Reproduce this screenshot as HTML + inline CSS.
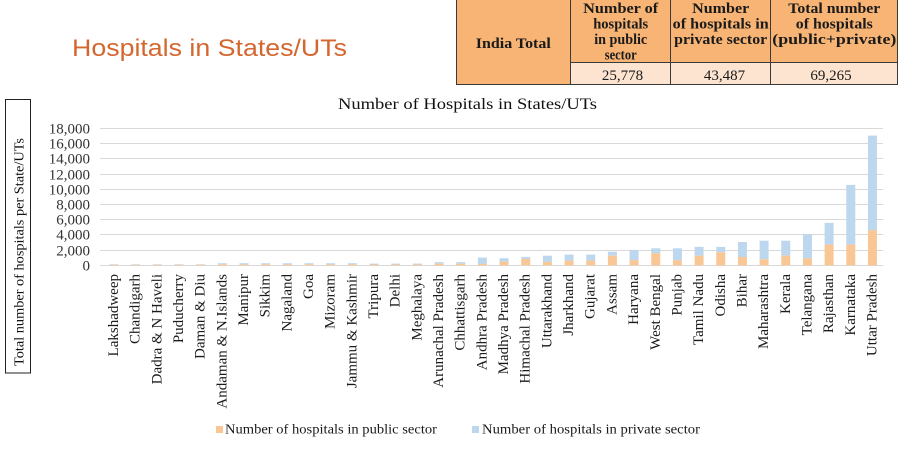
<!DOCTYPE html>
<html>
<head>
<meta charset="utf-8">
<style>
html,body{margin:0;padding:0;background:#fff;}
svg{display:block;}
text{font-family:"Liberation Serif","DejaVu Serif",serif;}
</style>
</head>
<body>
<svg width="903" height="451" viewBox="0 0 903 451" xmlns="http://www.w3.org/2000/svg">
<rect x="0" y="0" width="903" height="451" fill="#ffffff"/>

<!-- Main title -->
<text x="72" y="56" font-family="Liberation Sans, DejaVu Sans, sans-serif" style="font-family:'Liberation Sans','DejaVu Sans',sans-serif" font-size="24.5" fill="#d4672f" textLength="275" lengthAdjust="spacingAndGlyphs">Hospitals in States/UTs</text>

<!-- Table -->
<rect x="456" y="0" width="442" height="84" fill="#f7b474"/>
<rect x="571" y="63" width="327" height="21" fill="#fce4d0"/>
<g stroke="#3a3a3a" stroke-width="1" fill="none">
  <line x1="456.5" y1="0" x2="456.5" y2="85"/>
  <line x1="570.5" y1="0" x2="570.5" y2="85"/>
  <line x1="670.5" y1="0" x2="670.5" y2="85"/>
  <line x1="770.5" y1="0" x2="770.5" y2="85"/>
  <line x1="897.5" y1="0" x2="897.5" y2="85"/>
  <line x1="570" y1="62.5" x2="898" y2="62.5"/>
  <line x1="456" y1="84.5" x2="898" y2="84.5"/>
</g>
<g font-weight="bold" font-size="15" fill="#1a1a1a" text-anchor="middle">
  <text x="513.3" y="48" textLength="75" lengthAdjust="spacingAndGlyphs">India Total</text>
  <text x="620.7" y="13" textLength="75" lengthAdjust="spacingAndGlyphs">Number of</text>
  <text x="620.7" y="28.5" textLength="55" lengthAdjust="spacingAndGlyphs">hospitals</text>
  <text x="620.7" y="44" textLength="53" lengthAdjust="spacingAndGlyphs">in public</text>
  <text x="620.7" y="59.5" textLength="32" lengthAdjust="spacingAndGlyphs">sector</text>
  <text x="720.7" y="13" textLength="57" lengthAdjust="spacingAndGlyphs">Number</text>
  <text x="720.7" y="28.5" textLength="96" lengthAdjust="spacingAndGlyphs">of hospitals in</text>
  <text x="720.7" y="44" textLength="93" lengthAdjust="spacingAndGlyphs">private sector</text>
  <text x="834.3" y="13" textLength="92" lengthAdjust="spacingAndGlyphs">Total number</text>
  <text x="834.3" y="28.5" textLength="77" lengthAdjust="spacingAndGlyphs">of hospitals</text>
  <text x="834.3" y="44" textLength="124" lengthAdjust="spacingAndGlyphs">(public+private)</text>
</g>
<g font-size="15" fill="#1a1a1a" text-anchor="middle">
  <text x="622.5" y="80">25,778</text>
  <text x="724.5" y="80">43,487</text>
  <text x="831" y="80">69,265</text>
</g>

<!-- Chart title -->
<text x="338" y="109" font-size="16" fill="#111" textLength="259" lengthAdjust="spacingAndGlyphs">Number of Hospitals in States/UTs</text>

<!-- Y-axis title box -->
<rect x="5.5" y="99.5" width="25" height="273.5" fill="none" stroke="#222" stroke-width="1"/>
<text transform="translate(23.5,366) rotate(-90)" font-size="14" fill="#111" textLength="228" lengthAdjust="spacingAndGlyphs">Total number of hospitals per State/UTs</text>

<!-- Gridlines -->
<g stroke="#d9d9d9" stroke-width="1">
  <line x1="100" y1="128.5" x2="883" y2="128.5"/>
  <line x1="100" y1="143.5" x2="883" y2="143.5"/>
  <line x1="100" y1="158.5" x2="883" y2="158.5"/>
  <line x1="100" y1="174.5" x2="883" y2="174.5"/>
  <line x1="100" y1="189.5" x2="883" y2="189.5"/>
  <line x1="100" y1="204.5" x2="883" y2="204.5"/>
  <line x1="100" y1="219.5" x2="883" y2="219.5"/>
  <line x1="100" y1="234.5" x2="883" y2="234.5"/>
  <line x1="100" y1="250.5" x2="883" y2="250.5"/>
  <line x1="100" y1="265.5" x2="883" y2="265.5"/>
</g>

<!-- Y tick labels -->
<g font-size="15" fill="#333" text-anchor="end">
  <text x="90" y="133.5">18,000</text>
  <text x="90" y="148.5">16,000</text>
  <text x="90" y="163.5">14,000</text>
  <text x="90" y="179.5">12,000</text>
  <text x="90" y="194.5">10,000</text>
  <text x="90" y="209.5">8,000</text>
  <text x="90" y="224.5">6,000</text>
  <text x="90" y="239.5">4,000</text>
  <text x="90" y="255.5">2,000</text>
  <text x="90" y="270.5">0</text>
</g>

<!-- Bars: private (blue) -->
<g fill="#bdd7ee">
  <rect x="109.5" y="264.2" width="9" height="0.6"/>
  <rect x="131.17" y="264.2" width="9" height="0.6"/>
  <rect x="152.84" y="264.2" width="9" height="0.6"/>
  <rect x="174.51" y="264.2" width="9" height="0.6"/>
  <rect x="196.18" y="264.2" width="9" height="0.5"/>
  <rect x="217.85" y="263.2" width="9" height="1.1"/>
  <rect x="239.52" y="263.2" width="9" height="1.2"/>
  <rect x="261.19" y="263.2" width="9" height="1.1"/>
  <rect x="282.86" y="263.2" width="9" height="1.2"/>
  <rect x="304.53" y="263.2" width="9" height="1.1"/>
  <rect x="326.2" y="263.2" width="9" height="1.2"/>
  <rect x="347.87" y="263.2" width="9" height="1.1"/>
  <rect x="369.54" y="263.6" width="9" height="0.9"/>
  <rect x="391.21" y="263.6" width="9" height="0.9"/>
  <rect x="412.88" y="263.6" width="9" height="0.9"/>
  <rect x="434.55" y="262.1" width="9" height="1.6"/>
  <rect x="456.22" y="262.1" width="9" height="1.6"/>
  <rect x="477.89" y="257.6" width="9" height="6.3"/>
  <rect x="499.56" y="258.2" width="9" height="3.4"/>
  <rect x="521.23" y="256.9" width="9" height="2.0"/>
  <rect x="542.9" y="255.7" width="9" height="6.2"/>
  <rect x="564.57" y="254.6" width="9" height="6.0"/>
  <rect x="586.24" y="254.6" width="9" height="6.0"/>
  <rect x="607.91" y="251.7" width="9" height="4.0"/>
  <rect x="629.58" y="249.9" width="9" height="10.2"/>
  <rect x="651.25" y="248.3" width="9" height="4.9"/>
  <rect x="672.92" y="248.3" width="9" height="11.9"/>
  <rect x="694.59" y="246.9" width="9" height="8.8"/>
  <rect x="716.26" y="246.9" width="9" height="5.4"/>
  <rect x="737.93" y="242.0" width="9" height="15.0"/>
  <rect x="759.6" y="240.7" width="9" height="18.5"/>
  <rect x="781.27" y="240.7" width="9" height="14.9"/>
  <rect x="802.94" y="234.3" width="9" height="24.0"/>
  <rect x="824.61" y="222.9" width="9" height="21.7"/>
  <rect x="846.28" y="184.9" width="9" height="59.7"/>
  <rect x="867.95" y="135.6" width="9" height="94.6"/>
</g>
<!-- Bars: public (orange) -->
<g fill="#f9c796">
  <rect x="109.5" y="264.8" width="9" height="0.6"/>
  <rect x="131.17" y="264.8" width="9" height="0.6"/>
  <rect x="152.84" y="264.8" width="9" height="0.6"/>
  <rect x="174.51" y="264.8" width="9" height="0.6"/>
  <rect x="196.18" y="264.7" width="9" height="0.7"/>
  <rect x="217.85" y="264.3" width="9" height="1.1"/>
  <rect x="239.52" y="264.4" width="9" height="1.0"/>
  <rect x="261.19" y="264.3" width="9" height="1.1"/>
  <rect x="282.86" y="264.4" width="9" height="1.0"/>
  <rect x="304.53" y="264.3" width="9" height="1.1"/>
  <rect x="326.2" y="264.4" width="9" height="1.0"/>
  <rect x="347.87" y="264.3" width="9" height="1.1"/>
  <rect x="369.54" y="264.5" width="9" height="0.9"/>
  <rect x="391.21" y="264.5" width="9" height="0.9"/>
  <rect x="412.88" y="264.5" width="9" height="0.9"/>
  <rect x="434.55" y="263.7" width="9" height="1.7"/>
  <rect x="456.22" y="263.7" width="9" height="1.7"/>
  <rect x="477.89" y="263.9" width="9" height="1.5"/>
  <rect x="499.56" y="261.6" width="9" height="3.8"/>
  <rect x="521.23" y="258.9" width="9" height="6.5"/>
  <rect x="542.9" y="261.9" width="9" height="3.5"/>
  <rect x="564.57" y="260.6" width="9" height="4.8"/>
  <rect x="586.24" y="260.6" width="9" height="4.8"/>
  <rect x="607.91" y="255.7" width="9" height="9.7"/>
  <rect x="629.58" y="260.1" width="9" height="5.3"/>
  <rect x="651.25" y="253.2" width="9" height="12.2"/>
  <rect x="672.92" y="260.2" width="9" height="5.2"/>
  <rect x="694.59" y="255.7" width="9" height="9.7"/>
  <rect x="716.26" y="252.3" width="9" height="13.1"/>
  <rect x="737.93" y="257.0" width="9" height="8.4"/>
  <rect x="759.6" y="259.2" width="9" height="6.2"/>
  <rect x="781.27" y="255.6" width="9" height="9.8"/>
  <rect x="802.94" y="258.3" width="9" height="7.1"/>
  <rect x="824.61" y="244.6" width="9" height="20.8"/>
  <rect x="846.28" y="244.6" width="9" height="20.8"/>
  <rect x="867.95" y="230.2" width="9" height="35.2"/>
</g>

<!-- X labels -->
<g font-size="15" fill="#1a1a1a" text-anchor="end">
  <text transform="translate(118,274) rotate(-90)">Lakshadweep</text>
  <text transform="translate(139.67,274) rotate(-90)">Chandigarh</text>
  <text transform="translate(161.34,274) rotate(-90)">Dadra &amp; N Haveli</text>
  <text transform="translate(183.01,274) rotate(-90)">Puducherry</text>
  <text transform="translate(204.68,274) rotate(-90)">Daman &amp; Diu</text>
  <text transform="translate(226.35,274) rotate(-90)">Andaman &amp; N.Islands</text>
  <text transform="translate(248.02,274) rotate(-90)">Manipur</text>
  <text transform="translate(269.69,274) rotate(-90)">Sikkim</text>
  <text transform="translate(291.36,274) rotate(-90)">Nagaland</text>
  <text transform="translate(313.03,274) rotate(-90)">Goa</text>
  <text transform="translate(334.7,274) rotate(-90)">Mizoram</text>
  <text transform="translate(356.37,274) rotate(-90)">Jammu &amp; Kashmir</text>
  <text transform="translate(378.04,274) rotate(-90)">Tripura</text>
  <text transform="translate(399.71,274) rotate(-90)">Delhi</text>
  <text transform="translate(421.38,274) rotate(-90)">Meghalaya</text>
  <text transform="translate(443.05,274) rotate(-90)">Arunachal Pradesh</text>
  <text transform="translate(464.72,274) rotate(-90)">Chhattisgarh</text>
  <text transform="translate(486.39,274) rotate(-90)">Andhra Pradesh</text>
  <text transform="translate(508.06,274) rotate(-90)">Madhya Pradesh</text>
  <text transform="translate(529.73,274) rotate(-90)">Himachal Pradesh</text>
  <text transform="translate(551.4,274) rotate(-90)">Uttarakhand</text>
  <text transform="translate(573.07,274) rotate(-90)">Jharkhand</text>
  <text transform="translate(594.74,274) rotate(-90)">Gujarat</text>
  <text transform="translate(616.41,274) rotate(-90)">Assam</text>
  <text transform="translate(638.08,274) rotate(-90)">Haryana</text>
  <text transform="translate(659.75,274) rotate(-90)">West Bengal</text>
  <text transform="translate(681.42,274) rotate(-90)">Punjab</text>
  <text transform="translate(703.09,274) rotate(-90)">Tamil Nadu</text>
  <text transform="translate(724.76,274) rotate(-90)">Odisha</text>
  <text transform="translate(746.43,274) rotate(-90)">Bihar</text>
  <text transform="translate(768.1,274) rotate(-90)">Maharashtra</text>
  <text transform="translate(789.77,274) rotate(-90)">Kerala</text>
  <text transform="translate(811.44,274) rotate(-90)">Telangana</text>
  <text transform="translate(833.11,274) rotate(-90)">Rajasthan</text>
  <text transform="translate(854.78,274) rotate(-90)">Karnataka</text>
  <text transform="translate(876.45,274) rotate(-90)">Uttar Pradesh</text>
</g>

<!-- Legend -->
<rect x="216" y="426" width="7" height="7" fill="#f9c796"/>
<text x="225" y="433.5" font-size="14" fill="#1a1a1a" textLength="212" lengthAdjust="spacingAndGlyphs">Number of hospitals in public sector</text>
<rect x="472" y="426" width="7" height="7" fill="#bdd7ee"/>
<text x="482" y="433.5" font-size="14" fill="#1a1a1a" textLength="218" lengthAdjust="spacingAndGlyphs">Number of hospitals in private sector</text>
</svg>
</body>
</html>
